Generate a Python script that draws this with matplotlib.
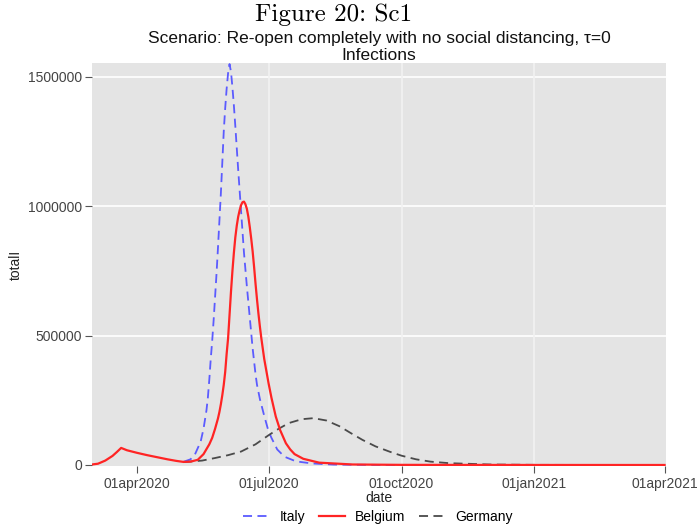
import numpy as np
import pandas as pd
import matplotlib
matplotlib.use("Agg")
import matplotlib.pyplot as plt

plt.rcParams['font.family'] = ['Liberation Sans', 'DejaVu Sans']

# values
belgium_dates = ["2020-03-01", "2020-03-05", "2020-03-10", "2020-03-15", "2020-03-18", "2020-03-21",
                 "2020-03-25", "2020-04-01", "2020-04-08", "2020-04-15", "2020-04-22", "2020-04-28",
                 "2020-05-03", "2020-05-08", "2020-05-13", "2020-05-17", "2020-05-21", "2020-05-23",
                 "2020-05-25", "2020-05-27", "2020-05-28", "2020-05-29", "2020-05-30", "2020-05-31",
                 "2020-06-01", "2020-06-02", "2020-06-03", "2020-06-04", "2020-06-05", "2020-06-06",
                 "2020-06-07", "2020-06-08", "2020-06-09", "2020-06-10", "2020-06-11", "2020-06-12",
                 "2020-06-13", "2020-06-14", "2020-06-15", "2020-06-16", "2020-06-17", "2020-06-18",
                 "2020-06-19", "2020-06-20", "2020-06-21", "2020-06-22", "2020-06-23", "2020-06-24",
                 "2020-06-25", "2020-06-26", "2020-06-28", "2020-07-01", "2020-07-03", "2020-07-06",
                 "2020-07-09", "2020-07-13", "2020-07-16", "2020-07-19", "2020-07-25", "2020-08-05",
                 "2020-08-28", "2020-10-01", "2021-01-01", "2021-04-01"]
belgium_vals = [2000, 5000, 17000, 35000, 50000, 66000,
                57000, 47000, 38000, 30000, 22000, 16000,
                12000, 13000, 20000, 42000, 80000, 105000,
                140000, 180000, 205000, 235000, 270000, 310000,
                360000, 430000, 490000, 580000, 670000, 750000,
                820000, 880000, 925000, 960000, 985000, 1005000,
                1016000, 1018000, 1008000, 990000, 960000, 920000,
                875000, 825000, 765000, 700000, 640000, 585000,
                535000, 490000, 410000, 316000, 260000, 187000,
                135000, 84000, 60000, 42000, 24000, 9000,
                2000, 500, 100, 0]

italy_dates = ["2020-05-03", "2020-05-08", "2020-05-11", "2020-05-15", "2020-05-17", "2020-05-19",
               "2020-05-20", "2020-05-21", "2020-05-22", "2020-05-23", "2020-05-24", "2020-05-25",
               "2020-05-26", "2020-05-27", "2020-05-28", "2020-05-29", "2020-05-30", "2020-05-31",
               "2020-06-01", "2020-06-02", "2020-06-03", "2020-06-04", "2020-06-05", "2020-06-06",
               "2020-06-07", "2020-06-08", "2020-06-09", "2020-06-10", "2020-06-11", "2020-06-12",
               "2020-06-13", "2020-06-14", "2020-06-15", "2020-06-16", "2020-06-17", "2020-06-18",
               "2020-06-19", "2020-06-20", "2020-06-21", "2020-06-22", "2020-06-23", "2020-06-25",
               "2020-06-28", "2020-07-01", "2020-07-03", "2020-07-07", "2020-07-12", "2020-07-20",
               "2020-07-31", "2020-08-15", "2020-09-15", "2021-04-01"]
italy_vals = [12000, 22000, 40000, 90000, 140000, 210000,
              260000, 330000, 410000, 480000, 560000, 650000,
              740000, 840000, 945000, 1050000, 1170000, 1290000,
              1380000, 1455000, 1515000, 1550000, 1520000, 1460000,
              1390000, 1310000, 1225000, 1140000, 1060000, 980000,
              900000, 820000, 755000, 690000, 630000, 570000,
              510000, 450000, 400000, 350000, 310000, 255000,
              190000, 130000, 105000, 60000, 32000, 14000,
              6000, 1500, 300, 0]

germany_dates = ["2020-05-03", "2020-05-16", "2020-05-25", "2020-06-03", "2020-06-12", "2020-06-22",
                 "2020-07-01", "2020-07-08", "2020-07-15", "2020-07-24", "2020-08-01", "2020-08-10",
                 "2020-08-19", "2020-08-27", "2020-09-04", "2020-09-13", "2020-09-23", "2020-10-01",
                 "2020-10-11", "2020-10-21", "2020-11-03", "2020-12-01", "2021-01-01", "2021-04-01"]
germany_vals = [11000, 17000, 27000, 38000, 52000, 80000,
                115000, 140000, 162000, 177000, 181000, 172000,
                150000, 123000, 97000, 72000, 51000, 36000,
                22000, 13000, 7000, 2000, 500, 0]

xtick_dates = ["2020-04-01", "2020-07-01", "2020-10-01", "2021-01-01", "2021-04-01"]
xtick_labels = ["01apr2020", "01jul2020", "01oct2020", "01jan2021", "01apr2021"]
yticks = [0, 500000, 1000000, 1500000]

W, H = 698, 529
fig = plt.figure(figsize=(W / 100, H / 100), dpi=100)
fig.patch.set_facecolor("white")
ax = fig.add_axes([92 / W, 1 - 466 / H, (666 - 92) / W, (466 - 63) / H])
ax.set_facecolor("#e4e4e4")

ax.plot(pd.to_datetime(italy_dates), italy_vals, color="#5b5bff", lw=1.3,
        dashes=(5, 3), label="Italy", zorder=3)
ax.plot(pd.to_datetime(belgium_dates), belgium_vals, color="#ff2424", lw=1.6,
        label="Belgium", zorder=4)
ax.plot(pd.to_datetime(germany_dates), germany_vals, color="#4a4a4a", lw=1.3,
        dashes=(5, 3), label="Germany", zorder=3)

ax.set_xlim(pd.Timestamp("2020-02-29 20:00"), pd.Timestamp("2021-04-02"))
ax.set_ylim(-3900, 1554000)

xt = pd.to_datetime(xtick_dates)
ax.set_xticks(xt)
ax.set_xticklabels(xtick_labels)
ax.set_yticks(yticks)
ax.set_yticklabels([str(v) for v in yticks])

for s in ax.spines.values():
    s.set_visible(False)
ax.tick_params(axis="both", colors="#555555", labelcolor="#444444", labelsize=10,
               length=5, width=0.8)
ax.tick_params(axis="x", pad=3)
ax.tick_params(axis="y", pad=2)

for v in yticks[1:]:
    ax.axhline(v, color="white", lw=1.2, zorder=1)
for d in xt[1:-1]:
    ax.axvline(d, color="#f2f2f2", lw=1.2, zorder=1)

ax.set_xlabel("date", fontsize=10, color="#222222", labelpad=0)
ax.set_ylabel("totalI", fontsize=10, color="#222222", labelpad=4)

fig.text(334 / W, 1 - 15 / H, "Figure 20: Sc1", family="cmr10", fontsize=18,
         ha="center", va="center", color="black")
fig.text(379 / W, 1 - 39 / H, "Scenario: Re-open completely with no social distancing, \u03c4=0",
         fontsize=12.5, ha="center", va="center", color="#111111")
fig.text(379 / W, 1 - 56 / H, "Infections", fontsize=12.5, ha="center", va="center",
         color="#111111")

leg = fig.legend(loc="center", bbox_to_anchor=(378 / W, 1 - 517 / H), ncol=3,
                 frameon=False, fontsize=10, handlelength=1.9, columnspacing=1.0,
                 handletextpad=0.7, borderpad=0)

fig.savefig("out.png", dpi=100)
